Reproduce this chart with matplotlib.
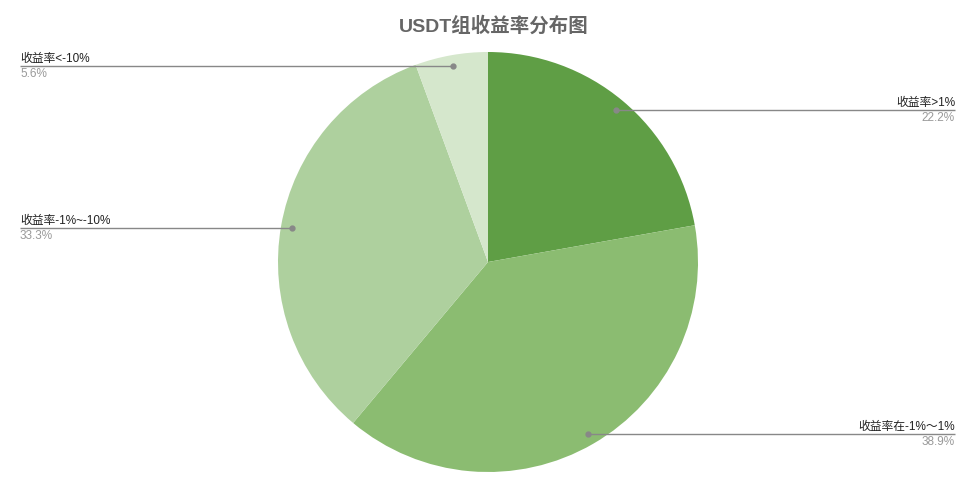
import matplotlib
matplotlib.use("Agg")
import matplotlib.pyplot as plt
import numpy as np

plt.rcParams['font.family'] = ['Liberation Sans', 'Noto Sans CJK SC', 'DejaVu Sans']

labels = ["收益率>1%", "收益率在-1%～1%", "收益率-1%~-10%", "收益率<-10%"]
shares = [22.2, 38.9, 33.3, 5.6]
colors = ["#5f9e45", "#8bbc71", "#aed09e", "#d5e7cc"]
title = "USDT组收益率分布图"

W, H = 973, 481
fig = plt.figure(figsize=(W / 100, H / 100), dpi=100)
ax = fig.add_axes([0, 0, 1, 1])

# pie drawn in pixel-like data coordinates
cx, cy, R = 488, H - 263, 210
wedges, _ = ax.pie(shares, colors=colors, startangle=90, counterclock=False,
                   center=(cx, cy), radius=R, frame=True,
                   wedgeprops=dict(linewidth=0))
ax.set_xlim(0, W)
ax.set_ylim(0, H)
ax.set_aspect("equal")
ax.axis("off")

for w, lab, val in zip(wedges, labels, shares):
    mid = np.deg2rad((w.theta1 + w.theta2) / 2)
    px = cx + 0.947 * R * np.cos(mid)
    py = cy + 0.947 * R * np.sin(mid)
    if px > cx:
        ex, ha = 955, "right"
    else:
        ex, ha = 20, "left"
    ax.plot([px, ex], [py, py], color="#888888", lw=1.0, solid_capstyle="butt")
    ax.plot(px, py, "o", color="#888888", ms=3.5)
    ax.text(ex, py + 2, lab, ha=ha, va="bottom", fontsize=8.5, color="#222222")
    ax.text(ex, py - 1, "%.1f%%" % val, ha=ha, va="top", fontsize=8.5, color="#999999")

fig.text(494 / W, 1 - 26 / H, title, ha="center", va="center",
         fontsize=14, fontweight="bold", color="#666666")

fig.savefig("out.png", dpi=100)
